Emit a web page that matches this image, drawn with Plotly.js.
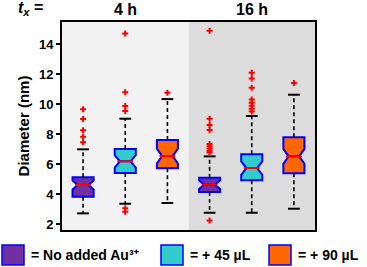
<!DOCTYPE html>
<html>
<head>
<meta charset="utf-8">
<script src="https://cdn.plot.ly/plotly-3.0.1.min.js"></script>
<style>html,body{margin:0;padding:0;background:#fff;}#chart{width:367px;height:267px;}</style>
</head>
<body>
<div id="chart"></div>
<script>
// Groups (time) and conditions
var groupLabels = ["4 h", "16 h"];
var conditions = ["= No added Au\u00B3\u207A", "= + 45 \u00B5L", "= + 90 \u00B5L"];
var fillColors = ["#7030A0", "#33CCCC", "#FF6600"];

// Box statistics, order: 4h-none, 4h-45, 4h-90, 16h-none, 16h-45, 16h-90
var q1Vals      = [3.84, 5.42, 5.73, 4.15, 4.93, 5.40];
var medianVals  = [4.62, 6.20, 6.55, 4.64, 5.75, 6.53];
var q3Vals      = [5.13, 7.02, 7.62, 5.11, 6.67, 7.80];
var lowerWhisk  = [2.73, 3.37, 3.42, 2.77, 2.77, 3.04];
var upperWhisk  = [7.00, 9.04, 10.35, 6.53, 9.22, 10.64];
var notchSpans  = [0.30, 0.42, 0.50, 0.29, 0.45, 0.50];

// Outliers per box
var outliers = [
  [9.67, 9.02, 8.27, 7.84, 7.47],
  [14.73, 10.80, 9.89, 9.55, 3.07, 2.84],
  [10.77],
  [14.91, 9.04, 8.62, 8.29, 7.35, 7.20, 7.05, 6.90, 6.78, 2.25],
  [12.11, 11.73, 11.11, 10.33, 10.11, 9.91, 9.71, 9.53],
  [11.42]
];

var traces = [];
var nBox = medianVals.length;
var boxHalf = 0.25, capHalf = 0.14, medHalf = 0.25 * 0.75;

for (var i = 0; i < nBox; i++) {
  var c = i % 3;
  traces.push({
    type: "box", x: [i], q1: [q1Vals[i]], median: [medianVals[i]], q3: [q3Vals[i]],
    lowerfence: [q1Vals[i]], upperfence: [q3Vals[i]],
    notched: true, notchspan: [notchSpans[i]], notchwidth: 0.25,
    width: boxHalf * 2, whiskerwidth: 0,
    fillcolor: fillColors[c], line: {color: "#0000FF", width: 2},
    showlegend: false, hoverinfo: "skip"
  });
}
// whiskers (dashed), caps, red medians, outliers
for (var i = 0; i < nBox; i++) {
  traces.push({
    type: "scatter", mode: "lines",
    x: [i, i, null, i, i],
    y: [q3Vals[i], upperWhisk[i], null, q1Vals[i], lowerWhisk[i]],
    line: {color: "#000", width: 1.6, dash: "4px,3px"},
    showlegend: false, hoverinfo: "skip"
  });
  traces.push({
    type: "scatter", mode: "lines",
    x: [i - capHalf, i + capHalf, null, i - capHalf, i + capHalf],
    y: [upperWhisk[i], upperWhisk[i], null, lowerWhisk[i], lowerWhisk[i]],
    line: {color: "#000", width: 2},
    showlegend: false, hoverinfo: "skip"
  });
  traces.push({
    type: "scatter", mode: "lines",
    x: [i - medHalf, i + medHalf],
    y: [medianVals[i], medianVals[i]],
    line: {color: "#FF0000", width: 2},
    showlegend: false, hoverinfo: "skip"
  });
  traces.push({
    type: "scatter", mode: "markers",
    x: outliers[i].map(function(){ return i; }),
    y: outliers[i],
    marker: {symbol: "cross", size: 5, color: "#FF0000", line: {width: 0}},
    showlegend: false, hoverinfo: "skip"
  });
}

var F = "Liberation Sans, Arial, sans-serif";
var shapes = [
  {type: "rect", xref: "x", yref: "paper", x0: -0.5, x1: 2.5, y0: 0, y1: 1, fillcolor: "#F2F2F2", line: {width: 0}, layer: "below"},
  {type: "rect", xref: "x", yref: "paper", x0: 2.5, x1: 5.5, y0: 0, y1: 1, fillcolor: "#DCDCDC", line: {width: 0}, layer: "below"}
];
var annotations = [
  {xref: "paper", yref: "paper", x: (16 - 62) / 253, y: 1.01, xanchor: "left", yanchor: "bottom", showarrow: false,
   text: "<b><i>t</i><sub><i>x</i></sub> =</b>", font: {family: F, size: 16, color: "#000"}},
  {xref: "x", yref: "paper", x: 1, y: 1.01, yanchor: "bottom", showarrow: false,
   text: "<b>" + groupLabels[0] + "</b>", font: {family: F, size: 16, color: "#000"}},
  {xref: "x", yref: "paper", x: 4, y: 1.01, yanchor: "bottom", showarrow: false,
   text: "<b>" + groupLabels[1] + "</b>", font: {family: F, size: 16, color: "#000"}}
];
// legend built from the condition arrays
var legX = [2, 161, 269];
for (var k = 0; k < conditions.length; k++) {
  shapes.push({type: "rect", xref: "paper", yref: "paper",
    x0: (legX[k] - 62) / 253, x1: (legX[k] + 22 - 62) / 253,
    y0: (230 - 265) / 208, y1: (230 - 245) / 208,
    fillcolor: fillColors[k], line: {color: "#0000FF", width: 1.5}});
  annotations.push({xref: "paper", yref: "paper", x: (legX[k] + 27 - 62) / 253, y: (230 - 255) / 208,
    xanchor: "left", yanchor: "middle", showarrow: false,
    text: "<b>" + conditions[k] + "</b>", font: {family: F, size: 14, color: "#000"}});
}

var layout = {
  width: 367, height: 267,
  margin: {l: 62, r: 52, t: 22, b: 37},
  paper_bgcolor: "#fff", plot_bgcolor: "#fff",
  showlegend: false,
  xaxis: {range: [-0.5, 5.5], showticklabels: false, ticks: "", showgrid: false, zeroline: false,
    showline: true, linecolor: "#000", linewidth: 2, mirror: true},
  yaxis: {range: [1.62, 15.49], tickvals: [2, 4, 6, 8, 10, 12, 14], ticks: "outside", ticklen: 4, tickwidth: 2,
    tickcolor: "#000", showgrid: false, zeroline: false, showline: true, linecolor: "#000", linewidth: 2, mirror: true,
    tickfont: {family: F, size: 13, color: "#000", weight: "bold"},
    title: {text: "<b>Diameter (nm)</b>", font: {family: F, size: 15, color: "#000"}, standoff: 6}},
  shapes: shapes,
  annotations: annotations
};
Plotly.newPlot("chart", traces, layout, {staticPlot: true, displayModeBar: false});
</script>
</body>
</html>
